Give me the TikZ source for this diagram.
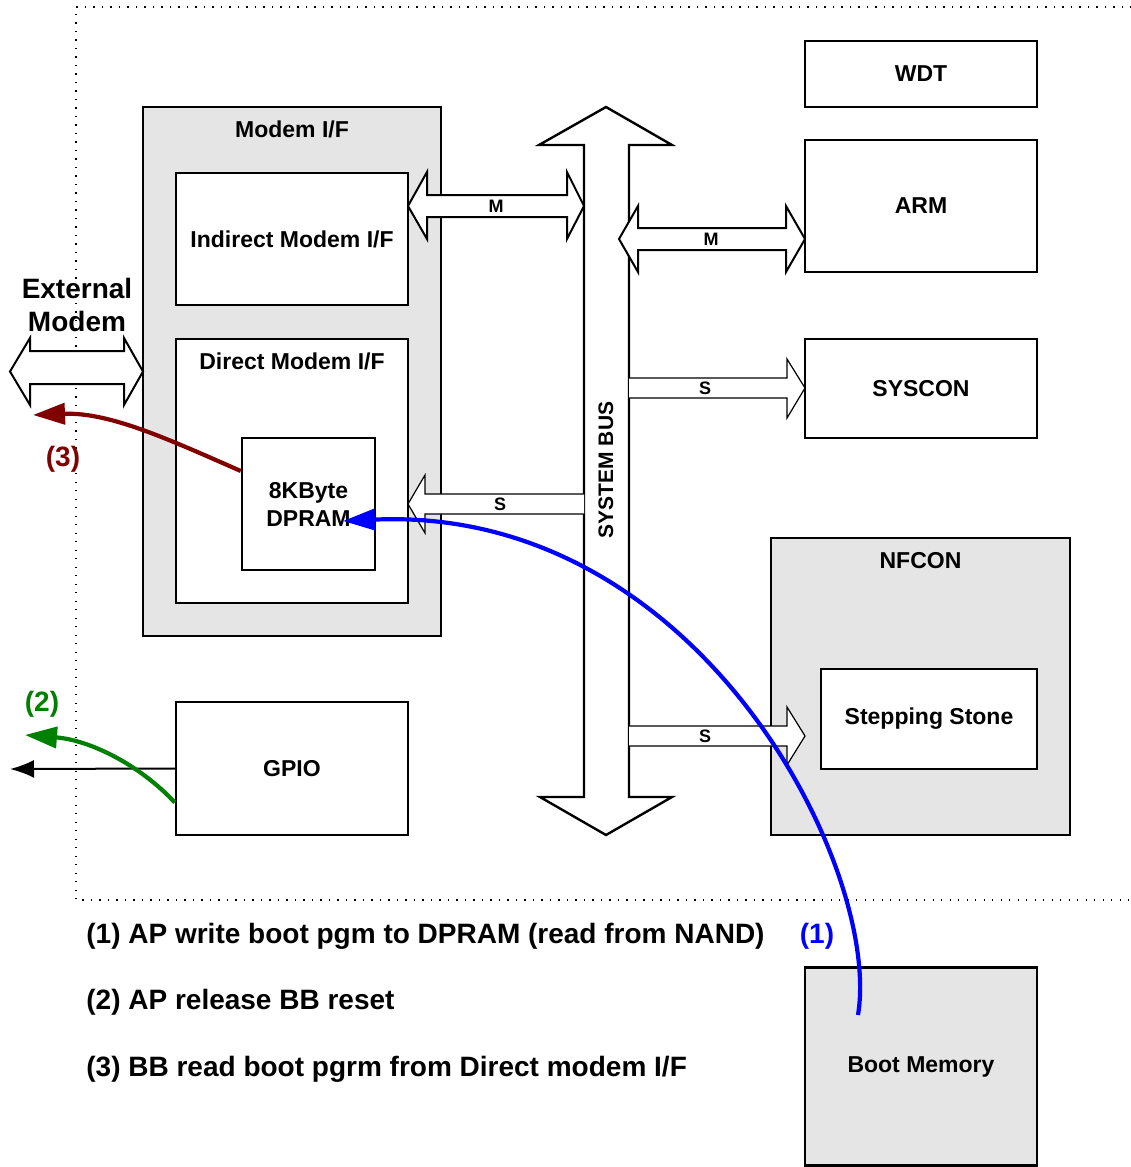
\documentclass[tikz,border=0pt]{standalone}
\usepackage{fontspec}
\setmainfont{Liberation Sans}
\usetikzlibrary{positioning,arrows.meta}

\definecolor{stepred}{RGB}{128,0,0}
\definecolor{stepgreen}{RGB}{0,128,0}
\definecolor{stepblue}{RGB}{0,0,255}

\begin{document}
\begin{tikzpicture}[x=0.5pt, y=-0.5pt,
  box/.style={draw, line width=1.2pt, fill=white, inner sep=0pt,
    font=\fontsize{11.5}{14}\selectfont\bfseries, align=center},
  greybox/.style={box, fill=black!10},
  title/.style={font=\fontsize{11.5}{14}\selectfont\bfseries, inner sep=0pt},
  blockarrow/.style={draw, fill=white, line width=1pt, line join=miter},
  thinarrow/.style={draw, fill=white, line width=0.6pt, line join=miter},
  buslabel/.style={font=\fontsize{9}{10}\selectfont\bfseries, inner sep=0pt},
  legend/.style={font=\fontsize{14}{16.5}\selectfont\bfseries, inner sep=0pt},
  flow/.style={line width=2.1pt, -{Triangle[length=16pt,width=10.5pt]}}]
  \useasboundingbox (0,0) rectangle (1130,1167);
  % dotted frame of the chip
  \draw[line width=0.7pt, dash pattern=on 0.7pt off 3.55pt] (1140,7) -- (76,7) -- (76,900) -- (1140,900);

  % right column
  \node[box, minimum width=116pt, minimum height=33pt] (wdt) at (921,74) {WDT};
  \node[box, minimum width=116pt, minimum height=66pt] (arm) at (921,206) {ARM};
  \node[box, minimum width=116pt, minimum height=49.5pt] (syscon) at (921,388.5) {SYSCON};
  \node[greybox, minimum width=149.5pt, minimum height=148.5pt] (nfcon) at (920.5,686.5) {};
  \node[title] at ([yshift=-12pt]nfcon.north) {NFCON};
  \node[box, minimum width=108pt, minimum height=50pt] (stone) at (929,719) {Stepping Stone};
  \node[greybox, minimum width=116pt, minimum height=99pt] (bootmem) at (921,1066.5) {Boot Memory};

  % modem interface
  \node[greybox, minimum width=149pt, minimum height=264.5pt] (modem) at (292,371.5) {};
  \node[title] at ([yshift=-12pt]modem.north) {Modem I/F};
  \node[box, minimum width=116pt, minimum height=66pt] (indirect) at (292,239) {Indirect Modem I/F};
  \node[box, minimum width=116pt, minimum height=132pt] (direct) at (292,471) {};
  \node[title] at ([yshift=-12pt]direct.north) {Direct Modem I/F};
  \node[box, minimum width=66.5pt, minimum height=66pt] (dpram) at (308.5,504) {8KByte\\DPRAM};
  \node[box, minimum width=116pt, minimum height=66.5pt] (gpio) at (292,768.5) {GPIO};

  % system bus
  \draw[blockarrow, line width=1.2pt] (606,107) -- (672,145) -- (629,145) -- (629,797) -- (672,797)
    -- (606,835) -- (540,797) -- (584,797) -- (584,145) -- (539,145) -- cycle;
  \node[rotate=90, font=\fontsize{10.5}{12}\selectfont\bfseries, inner sep=0pt] (bus) at (606,470) {SYSTEM BUS};

  % master ports
  \draw[blockarrow] (408,206) -- (427,172) -- (427,195) -- (567,195) -- (567,172) -- (584,206)
    -- (567,239) -- (567,217) -- (427,217) -- (427,239) -- cycle;
  \node[buslabel] at (496,206) {M};
  \draw[blockarrow] (619,239) -- (638,206) -- (638,228) -- (786,228) -- (786,206) -- (805,239)
    -- (786,272) -- (786,250) -- (638,250) -- (638,272) -- cycle;
  \node[buslabel] at (711,239) {M};

  % slave ports
  \draw[thinarrow] (629,378) -- (787,378) -- (787,359) -- (805,388) -- (787,418) -- (787,398) -- (629,398);
  \node[buslabel] at (705,388) {S};
  \draw[thinarrow] (584,494) -- (425,494) -- (425,475) -- (408,504) -- (425,533) -- (425,514) -- (584,514);
  \node[buslabel] at (500,504) {S};
  \draw[thinarrow] (629,726) -- (787,726) -- (787,707) -- (805,736) -- (787,765) -- (787,746) -- (629,746);
  \node[buslabel] at (705,736) {S};

  % external modem
  \node[legend, align=center] (extmodem) at (77,305) {External\\Modem};
  \draw[blockarrow] (10,371.5) -- (30,338) -- (30,351) -- (124,351) -- (124,338) -- (143,371.5)
    -- (124,405) -- (124,384) -- (30,384) -- (30,405) -- cycle;

  % boot sequence
  \coordinate (redend) at (33,415);
  \coordinate (greenend) at (25,735);
  \coordinate (gpioout) at (10,769);
  \coordinate (bootstart) at (858,1015);
  \coordinate (dpramin) at (343,521);
  \draw[line width=1pt, -{Latex[length=12pt,width=9pt]}] (gpio.west) -- (gpioout);
  \draw[flow, stepgreen] ([yshift=-17pt]gpio.west) .. controls (140,765) and (90,740) .. (greenend);
  \draw[flow, stepred] ([yshift=16.5pt]dpram.west) .. controls (170,440) and (110,412) .. (redend);
  \draw[flow, stepblue] (bootstart) .. controls (882,870) and (700,505) .. (dpramin);
  \node[legend, stepgreen] at (42,704) {(2)};
  \node[legend, stepred] at (63,459) {(3)};
  \node[legend, stepblue] at (817,936) {(1)};

  % legend
  \node[legend, anchor=west] (leg1) at (86,936) {(1) AP write boot pgm to DPRAM (read from NAND)};
  \node[legend, anchor=west] (leg2) at (86,1002) {(2) AP release BB reset};
  \node[legend, anchor=west] (leg3) at (86,1069) {(3) BB read boot pgrm from Direct modem I/F};
\end{tikzpicture}
\end{document}
